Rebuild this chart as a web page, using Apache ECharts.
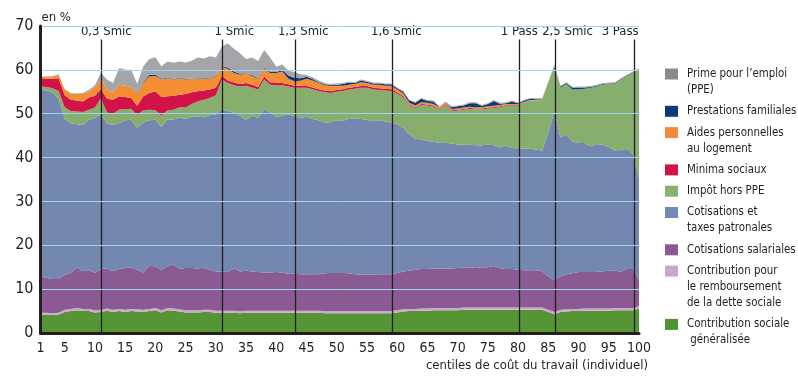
<!DOCTYPE html>
<html><head><meta charset="utf-8">
<script src="https://cdn.jsdelivr.net/npm/echarts@6/dist/echarts.min.js"></script>
<style>html,body{margin:0;padding:0;background:#fff}#c{width:798px;height:378px}</style>
</head><body><div id="c"></div>
<script>
const centiles = [1,2,3,4,5,6,7,8,9,10,11,12,13,14,15,16,17,18,19,20,21,22,23,24,25,26,27,28,29,30,31,32,33,34,35,36,37,38,39,40,41,42,43,44,45,46,47,48,49,50,51,52,53,54,55,56,57,58,59,60,61,62,63,64,65,66,67,68,69,70,71,72,73,74,75,76,77,78,79,80,81,82,83,84,85,86,87,88,89,90,91,92,93,94,95,96,97,98,99,100];

const csg = [4.2,4.2,4.1,4.2,4.8,5.0,5.2,5.0,5.0,4.7, 4.8,5.1,4.8,5.0,4.8,5.0,4.9,4.8,5.0,5.2, 4.7,5.2,5.1,4.9,4.7,4.7,4.7,4.8,4.8,4.6, 4.6,4.6,4.6,4.5,4.6,4.6,4.6,4.6,4.6,4.6, 4.6,4.6,4.6,4.6,4.6,4.6,4.6,4.5,4.5,4.5, 4.5,4.5,4.5,4.5,4.5,4.5,4.5,4.5,4.5,4.7, 4.9,5.0,5.0,5.1,5.1,5.2,5.2,5.2,5.2,5.2, 5.3,5.3,5.3,5.3,5.3,5.3,5.3,5.3,5.3,5.3, 5.3,5.3,5.3,5.3,4.8,4.3,4.8,4.9,5.0,5.0, 5.1,5.1,5.1,5.1,5.1,5.2,5.2,5.2,5.2,5.6];
const crds = [0.4,0.4,0.4,0.4,0.5,0.5,0.5,0.5,0.5,0.5, 0.5,0.5,0.5,0.5,0.5,0.5,0.5,0.5,0.5,0.5, 0.5,0.5,0.5,0.5,0.5,0.5,0.5,0.5,0.5,0.5, 0.5,0.5,0.5,0.5,0.5,0.5,0.5,0.5,0.5,0.5, 0.5,0.5,0.5,0.5,0.5,0.5,0.5,0.5,0.5,0.5, 0.5,0.5,0.5,0.5,0.5,0.5,0.5,0.5,0.5,0.5, 0.5,0.5,0.5,0.5,0.5,0.5,0.5,0.5,0.5,0.5, 0.5,0.5,0.5,0.5,0.5,0.5,0.5,0.5,0.5,0.5, 0.5,0.5,0.5,0.5,0.5,0.5,0.5,0.5,0.5,0.5, 0.5,0.5,0.5,0.5,0.5,0.5,0.5,0.5,0.5,0.5];
const salariales = [8.3,8.0,7.8,7.7,8.0,8.2,9.3,8.6,8.8,8.5, 9.3,9.1,8.8,9.1,9.5,9.5,9.0,8.5,9.8,9.5, 9.1,9.5,10.0,9.2,9.6,9.6,9.5,9.6,9.1,8.9, 8.9,8.8,9.6,9.0,9.1,8.9,8.8,8.7,8.7,8.8, 8.7,8.4,8.4,8.3,8.3,8.3,8.3,8.6,8.7,8.7, 8.7,8.6,8.4,8.3,8.3,8.3,8.4,8.4,8.4,8.5, 8.6,8.7,8.9,9.0,9.0,9.0,9.0,9.0,9.0,9.1, 9.1,9.2,9.0,9.2,9.2,9.5,9.0,8.8,8.8,8.6, 8.5,8.5,8.5,8.3,7.6,7.2,7.6,8.0,8.1,8.4, 8.3,8.3,8.3,8.5,8.6,8.5,8.3,8.9,8.9,6.1];
const patronales = [42.6,42.7,42.5,41.1,35.5,34.1,32.6,33.3,34.3,35.4, 35.2,33.1,33.3,33.3,33.7,33.6,32.4,34.2,33.2,33.4, 32.7,33.5,33.0,34.6,34.0,34.5,34.6,34.3,35.3,35.8, 37.0,36.7,35.5,35.5,34.4,35.6,35.1,37.2,36.5,35.3, 35.8,36.4,35.9,35.6,35.9,35.4,35.1,34.3,34.4,34.8, 34.7,35.2,35.5,35.5,35.3,35.0,35.1,34.8,34.6,33.9, 32.8,31.1,29.9,29.6,29.2,28.9,28.6,28.7,28.5,28.2, 28.0,27.9,28.0,27.8,27.9,27.5,27.5,28.1,27.6,27.7, 27.7,27.7,27.5,27.5,32.9,38.5,31.7,31.8,30.0,29.4, 29.4,28.6,29.2,28.8,28.2,27.4,27.8,27.4,26.2,23.1];
const impot = [0.7,0.8,1.0,1.8,2.7,2.8,2.9,3.0,2.3,2.3, 3.7,2.5,2.6,3.0,2.6,2.5,2.9,2.8,2.4,2.2, 2.6,2.1,2.3,2.3,2.6,2.9,3.5,4.0,3.9,4.4, 6.8,6.4,6.3,6.7,7.8,6.4,6.5,6.8,6.3,7.3, 6.9,6.3,6.5,6.9,6.6,6.8,6.7,7.0,6.6,6.5, 6.8,6.7,6.8,7.1,7.3,7.3,6.9,7.1,7.2,7.0, 6.9,6.6,7.0,7.8,8.1,8.0,7.6,8.6,7.4,7.7, 8.0,8.2,8.2,8.2,8.3,8.5,9.2,9.2,9.7,9.8, 10.5,11.0,11.2,11.5,11.2,10.3,11.4,11.6,11.9,12.3, 12.4,13.4,13.1,13.7,14.4,15.3,16.0,16.6,18.5,25.0];
const minima = [1.9,1.9,2.2,2.9,2.7,2.6,2.5,2.4,2.8,2.7, 2.1,3.1,3.2,3.1,2.7,2.5,2.1,3.2,3.8,4.3, 4.2,3.2,3.2,2.8,3.1,2.7,2.3,2.1,1.9,1.7, 0.8,0.6,0.6,0.6,0.6,0.6,0.6,0.7,0.6,0.6, 0.5,0.5,0.5,0.4,0.4,0.4,0.4,0.4,0.4,0.4, 0.4,0.4,0.4,0.4,0.4,0.4,0.4,0.4,0.4,0.3, 0.3,0.2,0.2,0.2,0.2,0.2,0.2,0.2,0.2,0.2, 0.2,0.2,0.2,0.2,0.2,0.2,0.2,0.1,0.1,0.1, 0.1,0,0,0,0,0,0,0,0,0, 0,0,0,0,0,0,0,0,0,0];
const logement = [0.3,0.4,0.5,0.7,1.3,1.4,1.5,1.7,1.3,2.0, 2.2,2.1,1.7,2.6,2.6,2.5,2.8,3.0,3.8,3.5, 4.0,4.1,3.7,3.8,3.3,3.0,2.9,2.7,2.6,2.6, 2.1,2.6,2.2,2.1,2.2,2.0,1.8,1.8,2.0,2.2, 2.6,1.3,1.0,1.2,1.7,1.6,1.4,1.2,1.2,1.0, 0.8,0.7,0.7,0.9,0.7,0.6,0.8,0.7,0.8,0.6, 0.6,0.4,0.4,0.4,0.4,0.4,0.3,0.4,0.3,0.3, 0.3,0.3,0.3,0.3,0.3,0.3,0.3,0.2,0.2,0.2, 0.1,0.1,0.1,0.1,0,0,0,0,0,0, 0,0,0,0,0,0,0,0,0,0];
const familiales = [0,0,0,0,0,0,0,0,0,0, 0,0,0,0,0,0,0.1,0.2,0.3,0.3, 0.2,0.1,0.1,0.1,0.1,0.1,0.1,0.1,0.1,0.1, 0.2,0.3,0.3,0.2,0.1,0.2,0.2,0.2,0.3,0.2, 0.4,0.7,0.8,0.6,0.4,0.3,0.2,0.2,0.2,0.2, 0.4,0.5,0.2,0.4,0.3,0.3,0.3,0.3,0.3,0.3, 0.4,0.5,0.6,0.8,0.4,0.6,0.1,0.0,0.4,0.5, 0.5,0.8,0.9,0.3,0.5,1.1,0.3,0.2,0.6,0.2, 0.3,0.3,0.2,0.1,0.1,0.1,0.2,0.2,0.4,0.4, 0.3,0.2,0.2,0.2,0.1,0.1,0.1,0.1,0.1,0.1];
const ppe = [0.1,0.1,0.1,0.2,0.1,0.1,0.1,0.2,0.4,0.4, 1.5,2.3,2.1,3.8,3.6,3.9,2.1,3.6,3.7,4.0, 2.8,3.7,3.7,3.7,3.8,4.1,4.7,4.5,4.9,4.2, 4.4,5.5,5.2,4.7,3.2,4.0,3.9,4.0,3.3,1.2, 1.2,1.1,1.3,0.9,0.4,0.4,0.4,0.3,0.3,0.3, 0.2,0.2,0.2,0.2,0.2,0.2,0.2,0.2,0.2,0.2, 0.2,0.2,0.2,0.2,0.2,0.2,0.2,0.2,0.2,0.2, 0.2,0.2,0.2,0.2,0.2,0.2,0.2,0.2,0.2,0.1, 0.2,0.2,0.2,0.2,0.2,0.3,0.2,0.2,0.2,0.2, 0.2,0.2,0.2,0.2,0.2,0.2,0.2,0.2,0.2,0.2];

const xTickLabels = [1,5,10,15,20,25,30,35,40,45,50,55,60,65,70,75,80,85,90,95,100];
const refPositions = [11.06, 31.08, 43.15, 59.2, 80.2, 86.2, 99.2];
const refLabels = ['0,3 Smic','1 Smic','1,3 Smic','1,6 Smic','1 Pass','2,5 Smic','3 Pass'];
const refTop = 66.9;

const seriesNames = ['Contribution sociale généralisée','Contribution pour le remboursement de la dette sociale','Cotisations salariales','Cotisations et taxes patronales','Impôt hors PPE','Minima sociaux','Aides personnelles au logement','Prestations familiales','Prime pour l’emploi (PPE)'];
const legendText = ['Contribution sociale\n généralisée','Contribution pour\nle remboursement\nde la dette sociale','Cotisations salariales','Cotisations et\ntaxes patronales','Impôt hors PPE','Minima sociaux','Aides personnelles\nau logement','Prestations familiales','Prime pour l’emploi\n(PPE)'];
const seriesValues = [csg, crds, salariales, patronales, impot, minima, logement, familiales, ppe];

// styles
const colors = ['#559534','#d2a6d2','#8a5b92','#7387b1','#88ae6d','#d1134a','#f58d33','#0d3b79','#a4a5a8'];
const legendColors = ['#4f9433','#cfa3d1','#8b5a93','#7488b4','#8bb26e','#d2124a','#f68a3c','#0c3a78','#8a8a8a'];
const labelOffsets = [5, 12, 8, 4, 0, 12, -14];
const FONT = "'DejaVu Sans Condensed','DejaVu Sans',sans-serif";
const INK = '#231f20';

const chart = echarts.init(document.getElementById('c'), null, {renderer:'canvas'});

const series = seriesValues.map((vals, i) => ({
  name: seriesNames[i],
  type: 'line',
  stack: 'total',
  symbol: 'none',
  silent: true,
  xAxisIndex: 0,
  lineStyle: {width: 0},
  areaStyle: {color: colors[i], opacity: 1},
  itemStyle: {color: colors[i]},
  data: vals,
  z: 2
}));

series.push({
  name: 'refs',
  type: 'line',
  xAxisIndex: 1,
  data: [],
  silent: true,
  z: 5,
  markLine: {
    silent: true,
    symbol: 'none',
    animation: false,
    lineStyle: {color: INK, width: 1.3, type: 'solid'},
    label: {show: true, position: 'end', distance: 1, color: INK, fontFamily: FONT, fontSize: 13},
    data: refPositions.map((p, i) => [
      {coord: [p, 0], label: {formatter: refLabels[i], offset: [labelOffsets[i], 0]}},
      {coord: [p, refTop]}
    ])
  }
});

const rich = {t: {fontFamily: FONT, fontSize: 11.4, color: INK, lineHeight: 16}, g: {width: 9}, sp: {width: 22}};
seriesNames.forEach((n, i) => { rich['b' + i] = {width: 13, height: 11, backgroundColor: legendColors[i]}; });

chart.setOption({
  animation: false,
  backgroundColor: '#fff',
  grid: {left: 40.5, right: 159, top: 26, bottom: 45, containLabel: false},
  legend: {
    orient: 'vertical', left: 655, top: 61, itemWidth: 0, itemHeight: 0, itemGap: 5.3,
    icon: 'rect', selectedMode: false,
    data: seriesNames.slice().reverse(),
    formatter: function (name) {
      const i = seriesNames.indexOf(name);
      return legendText[i].split('\n').map((l, k) => (k === 0 ? '{b' + i + '|}{g|}' : '{sp|}') + '{t|' + l + '}').join('\n');
    },
    textStyle: {fontFamily: FONT, fontSize: 11.4, color: INK, lineHeight: 16, rich: rich}
  },
  xAxis: [{
    type: 'category', data: centiles, boundaryGap: false,
    name: 'centiles de coût du travail (individuel)',
    nameLocation: 'end', nameGap: 9,
    nameTextStyle: {fontFamily: FONT, fontSize: 13, color: INK, align: 'right', verticalAlign: 'top', padding: [26, 0, 0, 0]},
    axisLine: {show: true, onZero: false, lineStyle: {color: INK, width: 3}},
    axisTick: {show: false},
    splitLine: {show: false},
    axisLabel: {
      color: INK, fontFamily: FONT, fontSize: 14, margin: 8,
      interval: function (index, value) { return xTickLabels.indexOf(Number(value)) >= 0; }
    },
    z: 10
  }, {
    type: 'value', min: 1, max: 100, show: false
  }],
  yAxis: {
    type: 'value', min: 0, max: 70, interval: 10,
    name: 'en %', nameLocation: 'end', nameGap: 8,
    nameTextStyle: {fontFamily: FONT, fontSize: 13, color: INK, align: 'left', verticalAlign: 'middle', padding: [0, 0, 0, 1]},
    axisLine: {show: true, lineStyle: {color: INK, width: 3}},
    axisTick: {show: false},
    splitLine: {show: true, lineStyle: {color: '#9fd3ef', width: 1}},
    axisLabel: {color: INK, fontFamily: FONT, fontSize: 16, margin: 7},
    z: 10
  },
  series: series
});
</script></body></html>
